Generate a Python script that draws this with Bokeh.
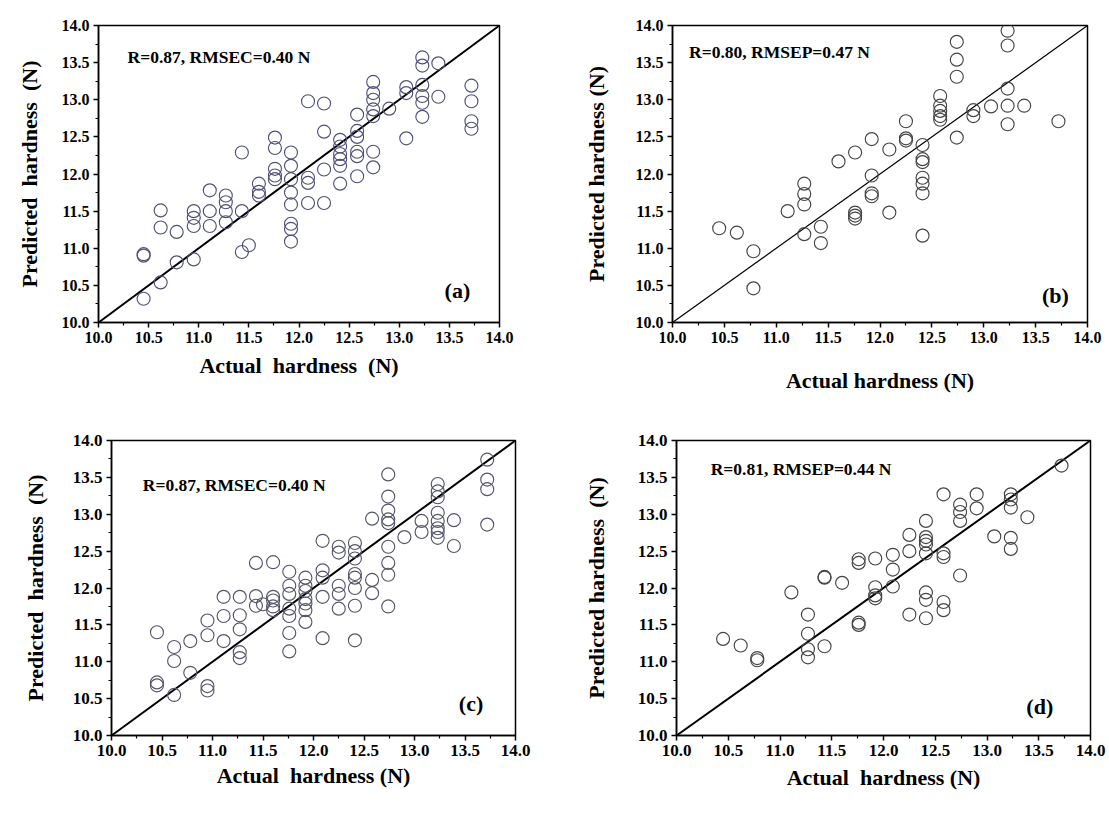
from bokeh.plotting import figure
from bokeh.layouts import column, row
from bokeh.models import Range1d, FixedTicker, PrintfTickFormatter, Label
from bokeh.embed import file_html
from bokeh.resources import INLINE

# ---------------- data ----------------
tick_values = [10.0, 10.5, 11.0, 11.5, 12.0, 12.5, 13.0, 13.5, 14.0]
minor_values = [10.25, 10.75, 11.25, 11.75, 12.25, 12.75, 13.25, 13.75]
ideal_line = [10.0, 14.0]

a_x = [10.45, 10.45, 10.45, 10.62, 10.62, 10.62, 10.78, 10.78,
       10.95, 10.95, 10.95, 10.95, 11.11, 11.11, 11.11,
       11.27, 11.27, 11.27, 11.27, 11.43, 11.43, 11.43, 11.50,
       11.60, 11.60, 11.60, 11.76, 11.76, 11.76, 11.76, 11.76,
       11.92, 11.92, 11.92, 11.92, 11.92, 11.92, 11.92, 11.92,
       12.09, 12.09, 12.09, 12.09, 12.25, 12.25, 12.25, 12.25,
       12.41, 12.41, 12.41, 12.41, 12.41, 12.41,
       12.58, 12.58, 12.58, 12.58, 12.58, 12.58,
       12.74, 12.74, 12.74, 12.74, 12.74, 12.74, 12.74, 12.90,
       13.07, 13.07, 13.07, 13.23, 13.23, 13.23, 13.23, 13.23, 13.23,
       13.39, 13.39, 13.72, 13.72, 13.72, 13.72]
a_y = [10.92, 10.90, 10.32, 11.51, 11.28, 10.54, 11.22, 10.81,
       11.50, 11.41, 11.30, 10.85, 11.78, 11.50, 11.30,
       11.71, 11.62, 11.50, 11.35, 12.29, 11.50, 10.95, 11.04,
       11.87, 11.76, 11.71, 12.49, 12.35, 12.07, 11.98, 11.93,
       12.29, 12.11, 11.93, 11.75, 11.59, 11.33, 11.26, 11.09,
       12.98, 11.95, 11.88, 11.61, 12.95, 12.57, 12.06, 11.61,
       12.46, 12.37, 12.27, 12.20, 12.11, 11.87,
       12.80, 12.58, 12.50, 12.30, 12.24, 11.97,
       13.24, 13.09, 13.00, 12.87, 12.78, 12.30, 12.09, 12.88,
       13.17, 13.09, 12.48, 13.57, 13.46, 13.20, 13.05, 12.96, 12.77,
       13.49, 13.04, 13.19, 12.98, 12.71, 12.61]

b_x = [10.45, 10.62, 10.78, 10.78, 11.11, 11.27, 11.27, 11.27, 11.27,
       11.43, 11.43, 11.60, 11.76, 11.76, 11.76, 11.76,
       11.92, 11.92, 11.92, 11.92, 12.09, 12.09, 12.25, 12.25, 12.25,
       12.41, 12.41, 12.41, 12.41, 12.41, 12.41, 12.41,
       12.58, 12.58, 12.58, 12.58, 12.58, 12.74, 12.74, 12.74, 12.74,
       12.90, 12.90, 13.07, 13.23, 13.23, 13.23, 13.23, 13.23, 13.39, 13.72]
b_y = [11.27, 11.21, 10.96, 10.46, 11.50, 11.87, 11.73, 11.59, 11.19,
       11.29, 11.07, 12.17, 12.29, 11.48, 11.44, 11.40,
       12.47, 11.98, 11.74, 11.70, 12.33, 11.48, 12.71, 12.48, 12.45,
       12.39, 12.20, 12.16, 11.95, 11.87, 11.74, 11.17,
       13.05, 12.92, 12.85, 12.78, 12.73, 13.78, 13.54, 13.31, 12.49,
       12.86, 12.78, 12.91, 13.93, 13.73, 13.15, 12.92, 12.67, 12.92, 12.71]

c_x = [10.45, 10.45, 10.45, 10.62, 10.62, 10.62, 10.78, 10.78,
       10.95, 10.95, 10.95, 10.95, 11.11, 11.11, 11.11,
       11.27, 11.27, 11.27, 11.27, 11.27, 11.43, 11.43, 11.43, 11.50,
       11.60, 11.60, 11.60, 11.60, 11.60,
       11.76, 11.76, 11.76, 11.76, 11.76, 11.76, 11.76,
       11.92, 11.92, 11.92, 11.92, 11.92, 11.92, 11.92,
       12.09, 12.09, 12.09, 12.09, 12.09,
       12.25, 12.25, 12.25, 12.25, 12.25,
       12.41, 12.41, 12.41, 12.41, 12.41, 12.41, 12.41, 12.41,
       12.58, 12.58, 12.58,
       12.74, 12.74, 12.74, 12.74, 12.74, 12.74, 12.74, 12.74, 12.74,
       12.90, 13.07, 13.07,
       13.23, 13.23, 13.23, 13.23, 13.23, 13.23, 13.23, 13.23,
       13.39, 13.39, 13.72, 13.72, 13.72, 13.72]
c_y = [11.40, 10.72, 10.68, 11.20, 11.01, 10.55, 11.28, 10.85,
       11.56, 11.36, 10.67, 10.61, 11.88, 11.62, 11.28,
       11.88, 11.63, 11.44, 11.13, 11.05, 12.34, 11.89, 11.76, 11.78,
       12.35, 11.88, 11.83, 11.75, 11.70,
       12.22, 12.03, 11.92, 11.72, 11.62, 11.39, 11.14,
       12.14, 12.03, 11.96, 11.85, 11.79, 11.70, 11.54,
       12.64, 12.24, 12.14, 11.88, 11.32,
       12.56, 12.48, 12.03, 11.92, 11.72,
       12.61, 12.50, 12.40, 12.19, 12.14, 12.00, 11.76, 11.29,
       12.94, 12.11, 11.93,
       13.54, 13.24, 13.05, 12.93, 12.88, 12.56, 12.34, 12.18, 11.75,
       12.69, 12.91, 12.76,
       13.41, 13.31, 13.23, 13.02, 12.91, 12.81, 12.76, 12.68,
       12.92, 12.57, 13.74, 13.47, 13.34, 12.86]

d_x = [10.45, 10.62, 10.78, 10.78, 11.11, 11.27, 11.27, 11.27, 11.27,
       11.43, 11.43, 11.43, 11.60, 11.76, 11.76, 11.76, 11.76,
       11.92, 11.92, 11.92, 11.92, 12.09, 12.09, 12.09,
       12.25, 12.25, 12.25,
       12.41, 12.41, 12.41, 12.41, 12.41, 12.41, 12.41, 12.41,
       12.58, 12.58, 12.58, 12.58, 12.58,
       12.74, 12.74, 12.74, 12.74, 12.90, 12.90, 13.07,
       13.23, 13.23, 13.23, 13.23, 13.23, 13.39, 13.72]
d_y = [11.31, 11.22, 11.05, 11.02, 11.94, 11.64, 11.38, 11.17, 11.06,
       12.15, 12.14, 11.21, 12.07, 12.39, 12.34, 11.53, 11.50,
       12.40, 12.01, 11.90, 11.86, 12.45, 12.25, 12.02,
       12.72, 12.50, 11.64,
       12.91, 12.69, 12.64, 12.59, 12.47, 11.94, 11.84, 11.59,
       13.27, 12.47, 12.42, 11.81, 11.70,
       13.13, 13.03, 12.91, 12.17, 13.27, 13.08, 12.70,
       13.27, 13.20, 13.09, 12.68, 12.53, 12.96, 13.66]

FONT = "Liberation Serif"
SP2 = "\u00a0 "  # a visibly doubled space, as in the original labels


def panel(xs, ys, width, height, left, right, top, bottom, xlabel, ylabel,
          stats, stats_pos, tag, tag_pos, mcolor, diag_w, xl_stand, yl_stand,
          tick_size):
    p = figure(width=width, height=height, output_backend="svg",
               toolbar_location=None, x_range=Range1d(10, 14),
               y_range=Range1d(10, 14),
               min_border_left=left, min_border_right=right,
               min_border_top=top, min_border_bottom=bottom)
    p.xgrid.visible = False
    p.ygrid.visible = False
    p.outline_line_color = "black"
    p.outline_line_width = 1.5
    p.background_fill_color = "white"
    p.border_fill_color = "white"
    for ax in (p.xaxis[0], p.yaxis[0]):
        ax.ticker = FixedTicker(ticks=tick_values, minor_ticks=minor_values)
        ax.formatter = PrintfTickFormatter(format="%.1f")
        ax.axis_line_width = 1.5
        ax.axis_line_color = "black"
        ax.major_tick_line_width = 1.5
        ax.minor_tick_line_width = 1.2
        ax.major_tick_out = 5
        ax.major_tick_in = 0
        ax.minor_tick_out = 3
        ax.minor_tick_in = 0
        ax.major_label_text_font = FONT
        ax.major_label_text_font_style = "bold"
        ax.major_label_text_font_size = tick_size
        ax.major_label_text_color = "black"
        ax.axis_label_text_font = FONT
        ax.axis_label_text_font_style = "bold"
        ax.axis_label_text_font_size = "22px"
        ax.axis_label_text_color = "black"
        ax.major_label_standoff = 4
    p.xaxis.axis_label = xlabel
    p.yaxis.axis_label = ylabel
    p.xaxis.axis_label_standoff = xl_stand
    p.yaxis.axis_label_standoff = yl_stand

    p.line(ideal_line, ideal_line, line_color="black", line_width=diag_w)
    p.scatter(xs, ys, size=13, marker="circle", fill_color=None,
              line_color=mcolor, line_width=1.15)

    p.add_layout(Label(x=stats_pos[0], y=stats_pos[1], text=stats,
                       text_font=FONT, text_font_style="bold",
                       text_font_size="17.5px", text_baseline="middle",
                       text_color="black"))
    p.add_layout(Label(x=tag_pos[0], y=tag_pos[1], text=tag,
                       text_font=FONT, text_font_style="bold",
                       text_font_size="22px", text_baseline="middle",
                       text_align="center", text_color="black"))
    return p


pa = panel(a_x, a_y, 580, 415, 98, 81, 22, 93,
           "Actual" + SP2 + "hardness" + SP2 + "(N)",
           "Predicted" + SP2 + "hardness" + SP2 + "(N)",
           "R=0.87, RMSEC=0.40 N", (10.29, 13.57), "(a)", (13.58, 10.43),
           "#50507a", 2.0, 7, 17, "16px")
pb = panel(b_x, b_y, 529, 415, 86, 22, 25, 83,
           "Actual hardness (N)", "Predicted hardness (N)",
           "R=0.80, RMSEP=0.47 N", (10.16, 13.64), "(b)", (13.69, 10.36),
           "#444444", 1.2, 22, 24, "16px")
pc = panel(c_x, c_y, 580, 406, 111, 65, 17, 86,
           "Actual" + SP2 + "hardness (N)",
           "Predicted" + SP2 + "hardness" + SP2 + "(N)",
           "R=0.87, RMSEC=0.40 N", (10.31, 13.40), "(c)", (13.56, 10.43),
           "#55556a", 2.0, 4, 22, "17px")
pd_ = panel(d_x, d_y, 529, 406, 90, 19, 25, 59,
            "Actual" + SP2 + "hardness (N)",
            "Predicted hardness" + SP2 + "(N)",
            "R=0.81, RMSEP=0.44 N", (10.33, 13.62), "(d)", (13.51, 10.40),
            "#444444", 2.0, 6, 26, "17px")

layout = column(row(pa, pb), row(pc, pd_))

with open("out.html", "w") as f:
    f.write(file_html(layout, INLINE))
